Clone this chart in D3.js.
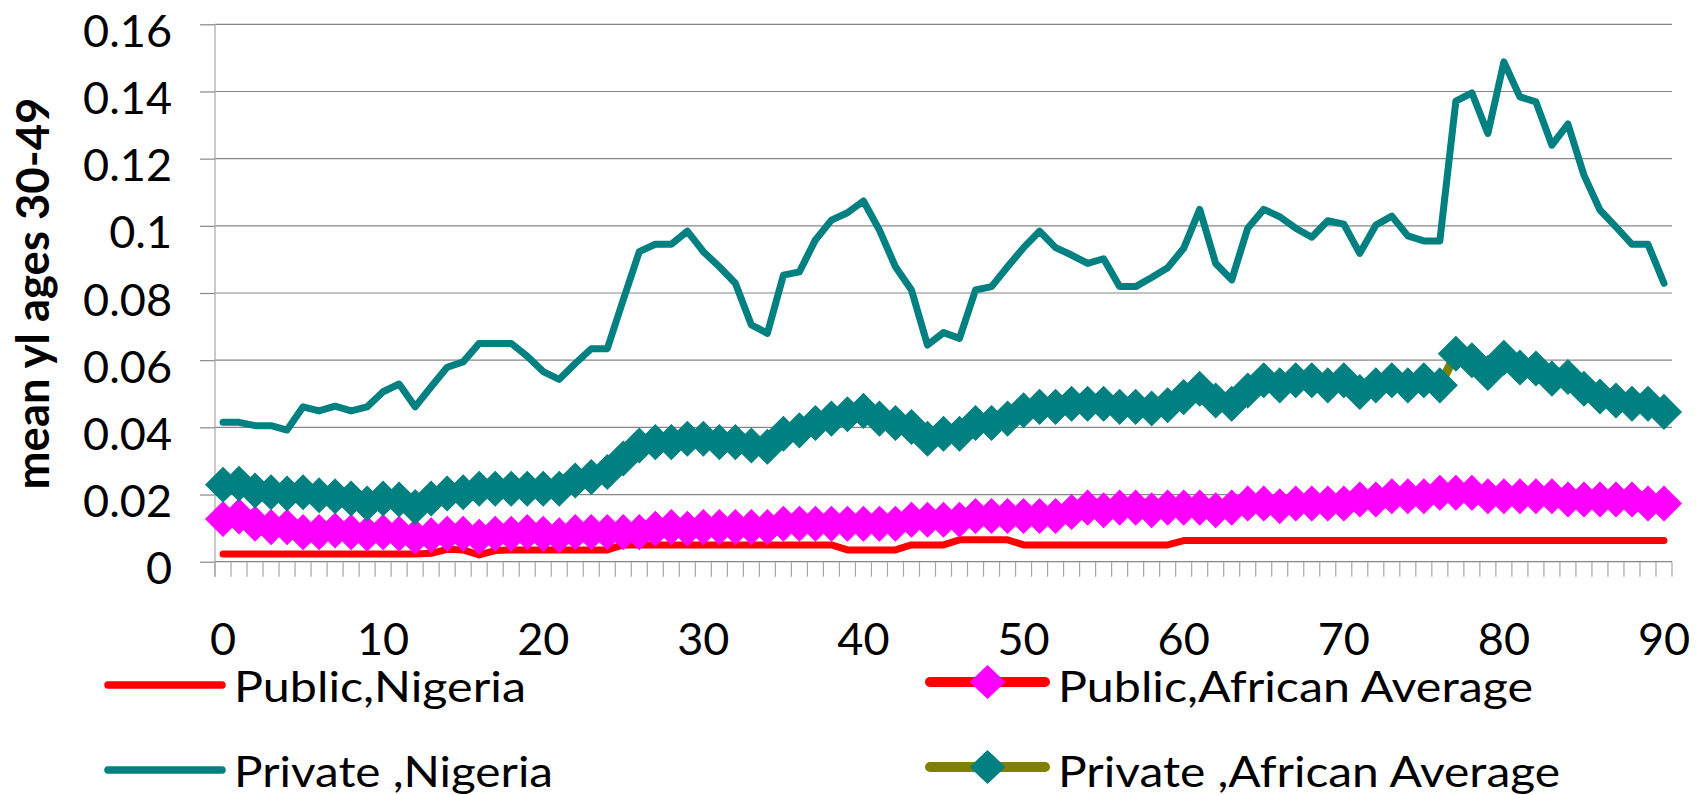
<!DOCTYPE html>
<html>
<head>
<meta charset="utf-8">
<script src="https://cdn.jsdelivr.net/npm/d3@7"></script>
<style>
  html, body { margin: 0; padding: 0; background: #ffffff; }
  svg { display: block; }
  text { font-family: Lato, "Noto Sans", "DejaVu Sans", sans-serif; fill: #000; }
</style>
</head>
<body>
<svg id="chart" width="1696" height="795"></svg>
<script>
const categories = [0,1,2,3,4,5,6,7,8,9,10,11,12,13,14,15,16,17,18,19,20,21,22,23,24,25,26,27,28,29,30,31,32,33,34,35,36,37,38,39,40,41,42,43,44,45,46,47,48,49,50,51,52,53,54,55,56,57,58,59,60,61,62,63,64,65,66,67,68,69,70,71,72,73,74,75,76,77,78,79,80,81,82,83,84,85,86,87,88,89,90];

const xTickLabels = [0,10,20,30,40,50,60,70,80,90];
const yTicks = [0,0.02,0.04,0.06,0.08,0.1,0.12,0.14,0.16];
const yTickLabels = ["0","0.02","0.04","0.06","0.08","0.1","0.12","0.14","0.16"];

const publicNigeria = [
 0.0023,0.0023,0.0023,0.0023,0.0023,0.0023,0.0023,0.0023,0.0023,0.0023,
 0.0023,0.0023,0.0023,0.0025,0.0037,0.0035,0.0020,0.0033,0.0035,0.0035,
 0.0035,0.0035,0.0035,0.0035,0.0035,0.0050,0.0050,0.0050,0.0050,0.0050,
 0.0050,0.0050,0.0050,0.0050,0.0050,0.0050,0.0050,0.0050,0.0050,0.0035,
 0.0035,0.0035,0.0035,0.0050,0.0050,0.0050,0.0065,0.0065,0.0065,0.0065,
 0.0050,0.0050,0.0050,0.0050,0.0050,0.0050,0.0050,0.0050,0.0050,0.0050,
 0.0063,0.0063,0.0063,0.0063,0.0063,0.0063,0.0063,0.0063,0.0063,0.0063,
 0.0063,0.0063,0.0063,0.0063,0.0063,0.0063,0.0063,0.0063,0.0063,0.0063,
 0.0063,0.0063,0.0063,0.0063,0.0063,0.0063,0.0063,0.0063,0.0063,0.0063,
 0.0063];

const privateNigeria = [
 0.0415,0.0415,0.0405,0.0405,0.0392,0.0461,0.0449,0.0463,0.0449,0.0461,
 0.0506,0.0529,0.0461,0.0521,0.0579,0.0595,0.0650,0.0650,0.0650,0.0612,
 0.0566,0.0543,0.0590,0.0634,0.0634,0.0780,0.0923,0.0945,0.0945,0.0984,
 0.0923,0.0878,0.0829,0.0705,0.0680,0.0853,0.0863,0.0958,0.1017,0.1039,
 0.1074,0.0987,0.0878,0.0809,0.0645,0.0682,0.0665,0.0809,0.0819,0.0878,
 0.0935,0.0984,0.0935,0.0913,0.0888,0.0902,0.0819,0.0819,0.0846,0.0875,
 0.0933,0.1049,0.0888,0.0839,0.0993,0.1049,0.1027,0.0993,0.0966,0.1015,
 0.1005,0.0918,0.1002,0.1029,0.0970,0.0955,0.0955,0.1371,0.1396,0.1275,
 0.1488,0.1384,0.1369,0.1240,0.1303,0.1151,0.1047,0.0997,0.0945,0.0945,
 0.0829];

const publicAfrican = [
 0.0127,0.0135,0.0113,0.0103,0.0103,0.0088,0.0088,0.0093,0.0088,0.0083,
 0.0088,0.0083,0.0074,0.0079,0.0083,0.0083,0.0074,0.0083,0.0083,0.0088,
 0.0083,0.0079,0.0088,0.0088,0.0088,0.0088,0.0088,0.0098,0.0103,0.0098,
 0.0103,0.0103,0.0103,0.0103,0.0103,0.0113,0.0113,0.0113,0.0113,0.0113,
 0.0113,0.0113,0.0113,0.0125,0.0125,0.0125,0.0125,0.0136,0.0136,0.0136,
 0.0136,0.0136,0.0136,0.0148,0.0161,0.0153,0.0161,0.0161,0.0153,0.0161,
 0.0161,0.0161,0.0153,0.0161,0.0173,0.0173,0.0165,0.0173,0.0173,0.0173,
 0.0173,0.0185,0.0185,0.0195,0.0195,0.0195,0.0205,0.0205,0.0205,0.0195,
 0.0195,0.0195,0.0195,0.0195,0.0185,0.0185,0.0185,0.0185,0.0185,0.0173,
 0.0173];

const privateAfrican = [
 0.0229,0.0232,0.0212,0.0207,0.0203,0.0207,0.0198,0.0195,0.0188,0.0173,
 0.0188,0.0185,0.0163,0.0188,0.0203,0.0207,0.0217,0.0217,0.0217,0.0217,
 0.0217,0.0217,0.0242,0.0252,0.0267,0.0307,0.0346,0.0356,0.0356,0.0366,
 0.0366,0.0356,0.0356,0.0346,0.0342,0.0381,0.0391,0.0413,0.0426,0.0439,
 0.0449,0.0426,0.0413,0.0401,0.0366,0.0381,0.0381,0.0413,0.0413,0.0426,
 0.0451,0.0461,0.0461,0.0470,0.0470,0.0470,0.0461,0.0461,0.0456,0.0466,
 0.0490,0.0515,0.0480,0.0470,0.0510,0.0540,0.0525,0.0540,0.0540,0.0525,
 0.0540,0.0505,0.0525,0.0540,0.0525,0.0540,0.0525,0.0619,0.0600,0.0562,
 0.0607,0.0578,0.0575,0.0545,0.0550,0.0515,0.0492,0.0480,0.0470,0.0470,
 0.0446];

const seriesNames = ["Public,Nigeria", "Public,African Average", "Private ,Nigeria", "Private ,African Average"];
const yTitle = "mean yl ages 30-49";

const svg = d3.select("#chart");
svg.append("rect").attr("width", 1696).attr("height", 795).attr("fill", "#ffffff");

const plotLeft = 215, plotRight = 1672, plotTop = 24.3, plotBottom = 561.7;
const x = d3.scaleBand().domain(categories).range([plotLeft, plotRight]).paddingInner(0).paddingOuter(0);
const cx = c => x(c) + x.bandwidth() / 2;
const y = d3.scaleLinear().domain([0, 0.16]).range([plotBottom, plotTop]);

// gridlines + y ticks
const yAxis = d3.axisLeft(y)
  .tickValues(yTicks)
  .tickSize(15)
  .tickPadding(28)
  .tickFormat((d, i) => yTickLabels[i]);
const yg = svg.append("g").attr("transform", `translate(${plotLeft},0)`).call(yAxis);
yg.select(".domain").remove();
yg.selectAll(".tick line").attr("stroke", "#878787").attr("stroke-width", 1.2);
yg.selectAll(".tick text")
  .attr("dy", null).attr("y", 22)
  .style("font-size", "45px").style("font-family", "Lato, sans-serif");

const grid = svg.append("g");
grid.selectAll("line").data(yTicks).join("line")
  .attr("x1", plotLeft).attr("x2", plotRight)
  .attr("y1", d => y(d)).attr("y2", d => y(d))
  .attr("stroke", "#878787").attr("stroke-width", 1.2);

// y axis line
svg.append("line")
  .attr("x1", plotLeft).attr("x2", plotLeft)
  .attr("y1", plotTop).attr("y2", plotBottom + 15)
  .attr("stroke", "#a6a6a6").attr("stroke-width", 1.2);

// x tick marks between categories
const boundaries = categories.map(c => x(c)).concat([x.range()[1]]);
svg.append("g").selectAll("line").data(boundaries).join("line")
  .attr("x1", d => d).attr("x2", d => d)
  .attr("y1", plotBottom).attr("y2", plotBottom + 15)
  .attr("stroke", "#a6a6a6").attr("stroke-width", 1.2);

// x labels
const xAxis = d3.axisBottom(x).tickValues(xTickLabels).tickSize(0).tickPadding(0);
const xg = svg.append("g").attr("transform", `translate(0,${plotBottom})`).call(xAxis);
xg.select(".domain").remove();
xg.selectAll(".tick text")
  .attr("dy", null).attr("y", 655 - plotBottom)
  .style("font-size", "45px").style("font-family", "Lato, sans-serif");

// y title
svg.append("text")
  .attr("transform", "translate(49,293.5) rotate(-90)")
  .attr("text-anchor", "middle")
  .attr("textLength", 392)
  .attr("lengthAdjust", "spacingAndGlyphs")
  .style("font-size", "45px").style("font-weight", "bold")
  .text(yTitle);

const line = d3.line().x((d, i) => cx(categories[i])).y(d => y(d)).curve(d3.curveLinear);
const diamond = d3.symbol(d3.symbolSquare, 600);

function drawLine(data, color, width) {
  svg.append("path").datum(data)
    .attr("d", line)
    .attr("fill", "none")
    .attr("stroke", color)
    .attr("stroke-width", width)
    .attr("stroke-linejoin", "round")
    .attr("stroke-linecap", "round");
}
function drawMarkers(data, color) {
  svg.append("g").selectAll("path").data(data).join("path")
    .attr("d", diamond)
    .attr("transform", (d, i) => `translate(${cx(categories[i])},${y(d)}) rotate(45)`)
    .attr("fill", color)
    .attr("stroke", color).attr("stroke-width", 1);
}

drawLine(publicNigeria, "#ff0000", 7);
drawLine(publicAfrican, "#ff0000", 9);
drawMarkers(publicAfrican, "#ff00ff");
drawLine(privateNigeria, "#008080", 7);
drawLine(privateAfrican, "#808000", 9);
drawMarkers(privateAfrican, "#008080");

// legend
const legend = [
  {name: seriesNames[0], x1: 108, x2: 222, ly: 685, ty: 701.7, tx: 234, tw: 292, color: "#ff0000", w: 7.5, marker: null},
  {name: seriesNames[1], x1: 930, x2: 1045, ly: 682, ty: 701.7, tx: 1058, tw: 475, color: "#ff0000", w: 10, marker: "#ff00ff"},
  {name: seriesNames[2], x1: 108, x2: 222, ly: 770, ty: 786.7, tx: 234, tw: 319, color: "#008080", w: 7.5, marker: null},
  {name: seriesNames[3], x1: 930, x2: 1045, ly: 767, ty: 786.7, tx: 1058, tw: 502, color: "#808000", w: 10, marker: "#008080"}
];
const lg = svg.append("g");
legend.forEach(e => {
  lg.append("line")
    .attr("x1", e.x1).attr("x2", e.x2).attr("y1", e.ly).attr("y2", e.ly)
    .attr("stroke", e.color).attr("stroke-width", e.w).attr("stroke-linecap", "round");
  if (e.marker) {
    lg.append("path")
      .attr("d", "M0,-17 L18,0 L0,17 L-18,0 Z")
      .attr("transform", `translate(${(e.x1 + e.x2) / 2},${e.ly})`)
      .attr("fill", e.marker);
  }
  lg.append("text")
    .attr("x", e.tx).attr("y", e.ty)
    .attr("textLength", e.tw)
    .attr("lengthAdjust", "spacingAndGlyphs")
    .style("font-size", "42px")
    .text(e.name);
});
</script>
</body>
</html>
